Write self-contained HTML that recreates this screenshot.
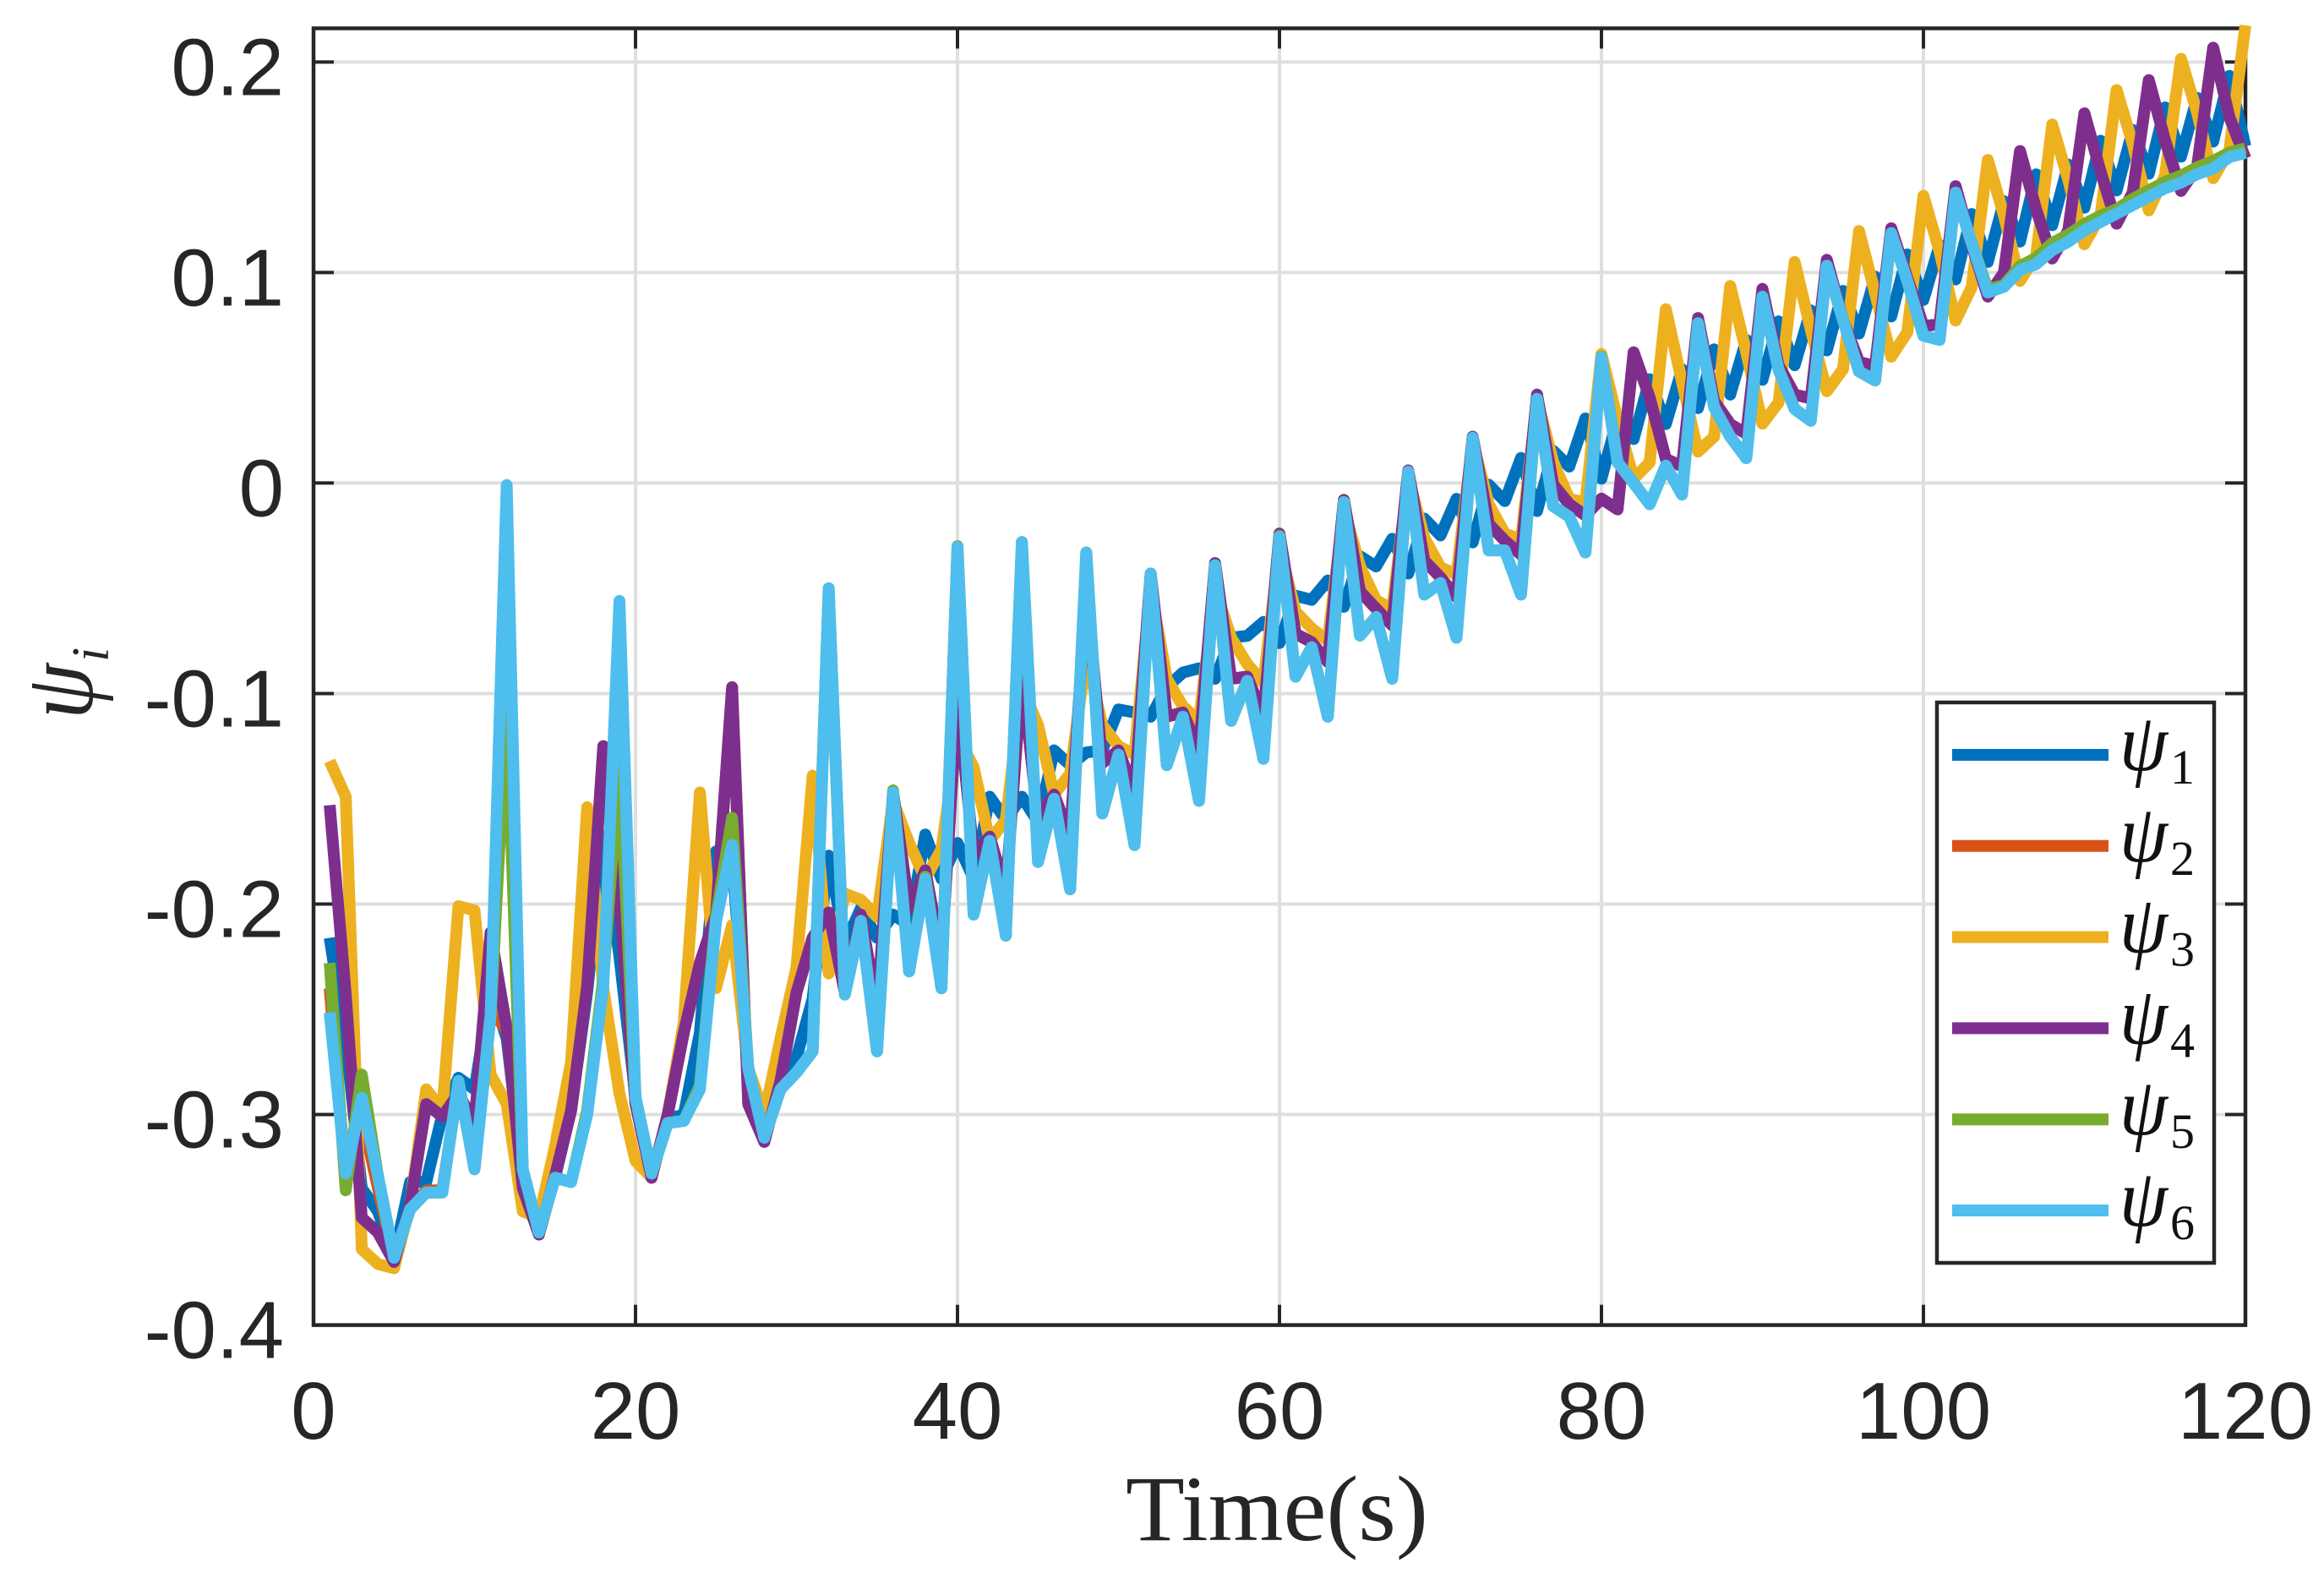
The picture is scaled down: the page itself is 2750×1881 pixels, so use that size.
<!DOCTYPE html>
<html lang="en">
<head>
<meta charset="utf-8">
<title>psi_i over time</title>
<style>
html,body{margin:0;padding:0;background:#fff;}
svg{display:block;}
text{fill:#262626;font-family:"Liberation Sans",sans-serif;}
.serif{font-family:"Liberation Serif","DejaVu Serif",serif;}
</style>
</head>
<body>
<svg id="chart" xmlns="http://www.w3.org/2000/svg" width="2750" height="1881" viewBox="0 0 2750 1881">
  <rect x="0" y="0" width="2750" height="1881" fill="#ffffff"/>
  <g id="grid"></g>
  <g id="axes"></g>
  <g id="series"></g>
  <text class="serif" x="1511" y="1822" font-size="110" text-anchor="middle" textLength="358" lengthAdjust="spacingAndGlyphs">Time(s)</text>
  <g>
    <text class="serif" transform="translate(109,851) rotate(-90)" font-size="118" font-style="italic" textLength="66" lengthAdjust="spacingAndGlyphs">ψ</text>
    <text class="serif" transform="translate(128,783) rotate(-90)" font-size="62" font-style="italic">i</text>
  </g>
  <g id="legend"></g>
</svg>
<script>
const xTicks = [0, 20, 40, 60, 80, 100, 120];
const yTicks = [0.2, 0.1, 0, -0.1, -0.2, -0.3, -0.4];
const yTickLabels = ["0.2", "0.1", "0", "-0.1", "-0.2", "-0.3", "-0.4"];
const seriesNames = ["1", "2", "3", "4", "5", "6"];
const seriesColors = ["#0072bd", "#d95319", "#edb120", "#7e2f8e", "#77ac30", "#4dbeee"];

const psi1 = [-.216,-.265,-.335,-.346,-.368,-.332,-.332,-.30,-.2825,-.288,-.24,-.264,-.329,-.356,-.33,-.298,-.242,-.168,-.225,-.292,-.328,-.302,-.30,-.261,-.175,-.178,-.278,-.311,-.284,-.273,-.245,-.177,-.219,-.202,-.216,-.205,-.21,-.167,-.188,-.171,-.188,-.149,-.16,-.149,-.161,-.127,-.134,-.128,-.127,-.1075,-.109,-.111,-.097,-.09,-.088,-.093,-.0735,-.0726,-.066,-.076,-.0535,-.0555,-.0463,-.0588,-.0348,-.0396,-.0265,-.043,-.0169,-.0249,-.0075,-.0282,-.0008,-.0086,.0119,-.0133,.0153,.0078,.0307,.0021,.0308,.0209,.0493,.028,.054,.0356,.0635,.042,.068,.049,.0768,.056,.082,.063,.0913,.071,.098,.0791,.1086,.087,.1131,.0967,.1278,.105,.1339,.1147,.1466,.1225,.1513,.1308,.1626,.139,.1677,.1469,.1784,.155,.183,.1622,.1934,.16];

const psi2 = [-.24,-.33,-.30,-.335,-.368,-.345,-.336,-.336,-.285,-.325,-.25,-.26,-.335,-.357,-.329,-.298,-.239,-.125,-.197,-.295,-.33,-.30,-.261,-.228,-.205,-.097,-.295,-.313,-.284,-.242,-.216,-.204,-.242,-.205,-.25,-.147,-.202,-.184,-.225,-.10,-.177,-.168,-.194,-.09,-.16,-.148,-.168,-.05,-.133,-.127,-.147,-.043,-.111,-.109,-.127,-.038,-.093,-.092,-.111,-.024,-.0716,-.0756,-.085,-.008,-.0515,-.0596,-.0676,.006,-.0368,-.0448,-.0542,.022,-.0194,-.0274,-.034,.042,-.0007,-.01,-.0154,-.0074,-.0125,.0621,.0406,.0114,.008,.0784,.039,.028,.0234,.0922,.056,.042,.0402,.106,.0775,.0575,.0556,.121,.0975,.0744,.0756,.141,.113,.0886,.10,.1577,.13,.1067,.12,.1756,.148,.1232,.138,.1914,.163,.1388,.15,.2068,.174,.1542];

const psi3 = [-.132,-.149,-.364,-.371,-.373,-.343,-.288,-.298,-.201,-.203,-.281,-.295,-.346,-.349,-.315,-.275,-.154,-.24,-.29,-.322,-.33,-.30,-.256,-.147,-.24,-.21,-.278,-.30,-.264,-.23,-.139,-.233,-.195,-.198,-.206,-.151,-.171,-.188,-.174,-.12,-.135,-.17,-.16,-.097,-.115,-.148,-.138,-.082,-.115,-.125,-.129,-.05,-.093,-.106,-.113,-.05,-.0735,-.086,-.095,-.03,-.061,-.069,-.075,-.012,-.0395,-.0556,-.06,.003,-.026,-.04,-.0435,.02,-.01,-.024,-.0268,.04,.01,-.0074,-.0094,.0613,.03,.002,.0098,.0826,.048,.0149,.022,.0936,.062,.0282,.0382,.105,.0729,.0436,.054,.1197,.09,.06,.0716,.1364,.11,.0772,.093,.1535,.127,.096,.108,.1703,.144,.1134,.127,.1867,.161,.1295,.146,.2015,.176,.1448,.158,.2174];

const psi4 = [-.153,-.243,-.349,-.356,-.37,-.343,-.295,-.301,-.29,-.304,-.2135,-.259,-.335,-.357,-.329,-.298,-.239,-.125,-.197,-.295,-.33,-.30,-.261,-.228,-.205,-.097,-.295,-.313,-.284,-.242,-.216,-.204,-.242,-.205,-.25,-.147,-.202,-.184,-.225,-.10,-.177,-.168,-.194,-.09,-.16,-.148,-.168,-.05,-.133,-.127,-.147,-.043,-.111,-.109,-.127,-.038,-.093,-.092,-.111,-.024,-.0716,-.0756,-.085,-.008,-.0515,-.0596,-.0676,.006,-.0368,-.0448,-.0542,.022,-.0194,-.0274,-.034,.042,-.0007,-.01,-.0154,-.0074,-.0125,.0621,.0406,.0114,.008,.0784,.039,.028,.0234,.0922,.056,.042,.0402,.106,.0775,.0575,.0556,.121,.0975,.0744,.0756,.141,.113,.0886,.10,.1577,.13,.1067,.12,.1756,.148,.1232,.138,.1914,.163,.1388,.15,.2068,.174,.1542];

const psi5 = [-.228,-.336,-.281,-.329,-.368,-.345,-.337,-.337,-.284,-.326,-.253,-.106,-.326,-.356,-.33,-.332,-.298,-.235,-.132,-.292,-.328,-.304,-.303,-.286,-.206,-.159,-.278,-.311,-.288,-.28,-.27,-.05,-.243,-.208,-.27,-.146,-.232,-.187,-.24,-.03,-.205,-.17,-.215,-.028,-.18,-.15,-.193,-.033,-.157,-.129,-.172,-.043,-.134,-.111,-.151,-.039,-.113,-.094,-.131,-.025,-.092,-.078,-.111,-.009,-.0725,-.0636,-.093,.0054,-.053,-.0475,-.0735,.0215,-.032,-.032,-.053,.04,-.011,-.016,-.033,.06,.01,0,-.01,.0083,-.0055,.076,.036,.022,.0118,.0885,.054,.0352,.0296,.1032,.0775,.053,.0487,.1187,.096,.07,.068,.138,.114,.092,.094,.103,.107,.114,.118,.123,.127,.13,.135,.139,.143,.146,.15,.153,.157,.159];

const psi6 = [-.2515,-.328,-.292,-.329,-.368,-.345,-.337,-.337,-.284,-.326,-.253,-.001,-.326,-.356,-.33,-.332,-.30,-.239,-.056,-.292,-.328,-.304,-.303,-.288,-.208,-.172,-.278,-.311,-.288,-.28,-.27,-.05,-.243,-.208,-.27,-.147,-.232,-.188,-.24,-.0305,-.205,-.17,-.215,-.028,-.18,-.15,-.193,-.033,-.157,-.129,-.172,-.043,-.134,-.111,-.151,-.039,-.113,-.094,-.131,-.0256,-.092,-.078,-.111,-.009,-.0725,-.0636,-.093,.0054,-.053,-.0475,-.0735,.0215,-.032,-.032,-.053,.04,-.011,-.016,-.033,.0598,.0098,0,-.0101,.0083,-.0055,.0759,.036,.022,.0118,.0885,.0537,.0352,.0296,.1032,.0775,.053,.0487,.1187,.096,.07,.068,.138,.114,.0905,.0932,.1012,.104,.1106,.1146,.12,.124,.128,.132,.136,.14,.1427,.1467,.1494,.1548,.1568];

const allSeries = [psi1, psi2, psi3, psi4, psi5, psi6];

const NS = "http://www.w3.org/2000/svg";
const plotLeft = 371, plotRight = 2657, plotTop = 33.5, plotBottom = 1567.6;
const xMin = 0, xMax = 120, yMin = -0.4, yMax = 0.216;
function xScale(v){ return plotLeft + (v - xMin) / (xMax - xMin) * (plotRight - plotLeft); }
function yScale(v){ return plotBottom - (v - yMin) / (yMax - yMin) * (plotBottom - plotTop); }
function make(tag, attrs, parent){
  const el = document.createElementNS(NS, tag);
  for (const k in attrs) el.setAttribute(k, attrs[k]);
  parent.appendChild(el);
  return el;
}
const gridG = document.getElementById("grid");
const axesG = document.getElementById("axes");
const seriesG = document.getElementById("series");
const legendG = document.getElementById("legend");
const gridColor = "#dfdfdf", axisColor = "#262626", tickLen = 24;

xTicks.forEach(function(t){
  const x = xScale(t);
  if (t !== xMin && t !== xMax) {
    const g = make("line", {x1:x, x2:x, y1:plotTop, y2:plotBottom, stroke:gridColor, "stroke-width":4}, gridG);
    
    
    const a = make("line", {x1:x, x2:x, y1:plotBottom, y2:plotBottom - tickLen, stroke:axisColor, "stroke-width":4}, axesG);
    
    
    const b = make("line", {x1:x, x2:x, y1:plotTop, y2:plotTop + tickLen, stroke:axisColor, "stroke-width":4}, axesG);
    
    
  }
  const l = make("text", {x:x, y:1702, "font-size":96, "text-anchor":"middle"}, axesG);
  
  
  l.textContent = String(t);
});

yTicks.forEach(function(v, i){
  const y = yScale(v);
  if (v !== yMin) {
    const g = make("line", {x1:plotLeft, x2:plotRight, y1:y, y2:y, stroke:gridColor, "stroke-width":4}, gridG);
    
    
    const a = make("line", {x1:plotLeft, x2:plotLeft + tickLen, y1:y, y2:y, stroke:axisColor, "stroke-width":4}, axesG);
    
    
    const b = make("line", {x1:plotRight, x2:plotRight - tickLen, y1:y, y2:y, stroke:axisColor, "stroke-width":4}, axesG);
    
    
  }
  const l = make("text", {x:336, y:y + 39, "font-size":96, "text-anchor":"end"}, axesG);
  
  
  l.textContent = yTickLabels[i];
});

const frame = make("rect", {x:plotLeft, y:plotTop, width:plotRight - plotLeft, height:plotBottom - plotTop, fill:"none", stroke:axisColor, "stroke-width":4.5}, axesG);



allSeries.forEach(function(values, s){
  const pts = values.map(function(v, i){ return xScale(i + 1).toFixed(1) + "," + yScale(v).toFixed(1); }).join(" ");
  const line = make("polyline", {points:pts, fill:"none", stroke:seriesColors[s], "stroke-width":14, "stroke-linejoin":"round", "stroke-linecap":"butt"}, seriesG);
  
  
});

const box = make("rect", {x:2292, y:831, width:328, height:663, fill:"#ffffff", stroke:axisColor, "stroke-width":4.5}, legendG);


seriesNames.forEach(function(name, s){
  const y = 893 + s * 107.8;
  const sw = make("line", {x1:2310, x2:2495, y1:y, y2:y, stroke:seriesColors[s], "stroke-width":14}, legendG);
  
  
  const t = make("text", {x:2508, y:y + 18, "font-size":98, "font-style":"italic", "class":"serif", textLength:57, lengthAdjust:"spacingAndGlyphs", style:"fill:#111"}, legendG);
  
  
  t.textContent = "ψ";
  const sub = make("text", {x:2568, y:y + 34, "font-size":58, "class":"serif", style:"fill:#111"}, legendG);
  
  
  sub.textContent = name;
});
</script>
</body>
</html>
